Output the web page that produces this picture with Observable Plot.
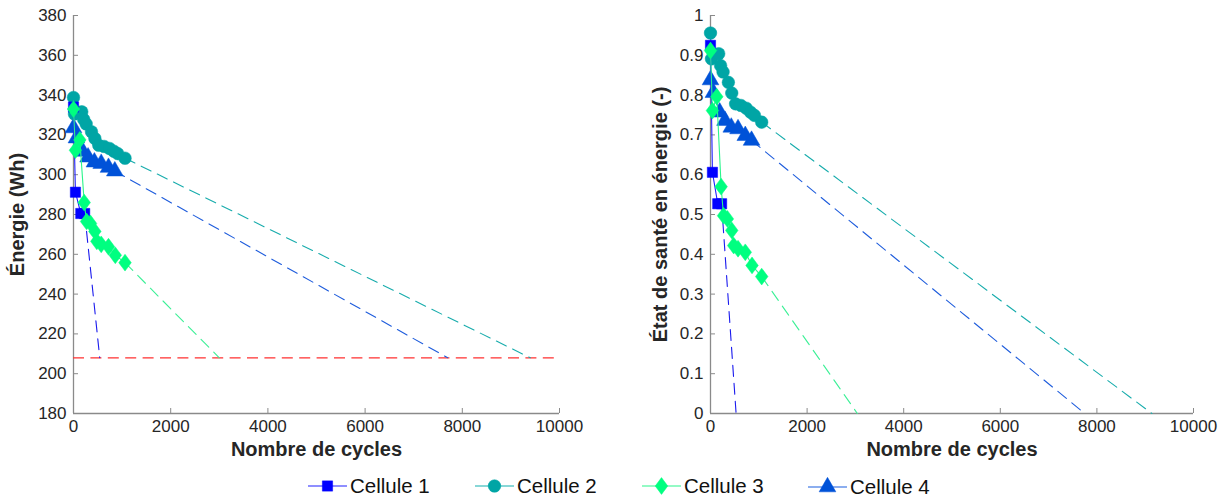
<!DOCTYPE html>
<html><head><meta charset="utf-8">
<script src="https://cdn.jsdelivr.net/npm/d3@7"></script>
<script src="https://cdn.jsdelivr.net/npm/@observablehq/plot@0.6"></script>
<style>
body{margin:0;background:#fff;font-family:"Liberation Sans",Arial,sans-serif;}
#wrap{position:relative;width:1227px;height:501px;overflow:hidden;}
#left{position:absolute;left:0;top:0;}
#right{position:absolute;left:600px;top:0;}
#legend{position:absolute;left:0;top:470px;width:1227px;height:31px;}
.item{position:absolute;top:0;height:31px;}
.item svg{position:absolute;top:0;left:0;}
.item span{position:absolute;top:4px;font-size:20.5px;color:#111;white-space:nowrap;}
</style></head><body>
<div id="wrap"><div id="left"></div><div id="right"></div><div id="legend"></div></div>
<script>
// ---- data ----
const cellNames = ["Cellule 1", "Cellule 2", "Cellule 3", "Cellule 4"];

const cycles1 = [0, 40, 150, 230];
const energy1 = [334, 291.2, 280.5, 280.5];
const soh1    = [0.925, 0.606, 0.527, 0.527];

const cycles2 = [0, 20, 170, 210, 260, 370, 440, 520, 630, 740, 830, 910, 1060];
const energy2 = [338.8, 330.5, 331.6, 327.8, 325.5, 321.6, 318.2, 314.8, 314.2, 313.2, 311.8, 310.6, 308.3];
const soh2    = [0.956, 0.891, 0.904, 0.874, 0.858, 0.832, 0.805, 0.778, 0.774, 0.767, 0.757, 0.749, 0.732];

const cycles3 = [0, 40, 130, 220, 270, 350, 440, 480, 570, 720, 860, 1060];
const energy3 = [333, 312.3, 317.5, 286, 276.5, 275.5, 271.5, 266.5, 265, 263.8, 259.5, 255.8];
const soh3    = [0.912, 0.761, 0.796, 0.57, 0.497, 0.489, 0.46, 0.422, 0.414, 0.405, 0.372, 0.344];

const cycles4 = [0, 60, 190, 300, 430, 570, 720, 850];
const energy4 = [323.5, 318.4, 311.7, 308.8, 306.3, 305.6, 303.6, 301.8];
const soh4    = [0.838, 0.806, 0.757, 0.736, 0.719, 0.715, 0.698, 0.686];

// extrapolated end-of-life cycles (where dashed lines meet the threshold)
const eolEnergy = [540, 9400, 3000, 7700];
const eolSoh    = [530, 9140, 3040, 7750];
const energyThreshold = 208;
const sohThreshold = 0;

const xTicks = [0, 2000, 4000, 6000, 8000, 10000];
const energyTicks = [180, 200, 220, 240, 260, 280, 300, 320, 340, 360, 380];
const sohTicks = [0, 0.1, 0.2, 0.3, 0.4, 0.5, 0.6, 0.7, 0.8, 0.9, 1];

// ---- styles ----
const markerColors = ["#0000FF", "#00A5A5", "#00FF80", "#0052D8"];
const lineColors   = ["#2020FF", "#13AFAF", "#2AF58C", "#1A5FE0"];
const dashColors   = ["#1A1AEE", "#17ACAC", "#3BF096", "#1E5CDC"];
const font = "Liberation Sans, Arial, sans-serif";
const axisGray = "#8a8a8a";

// wider diamond (like MATLAB's marker)
const wideDiamond = {
  draw(context, size) {
    const r = Math.sqrt(size / Math.PI);
    const hh = r * 1.5, hw = r * 1.12;
    context.moveTo(0, -hh);
    context.lineTo(hw, 0);
    context.lineTo(0, hh);
    context.lineTo(-hw, 0);
    context.closePath();
  }
};
const symbols = [d3.symbolSquare, d3.symbolCircle, wideDiamond, d3.symbolTriangle];
const radii   = [5.8, 6.3, 5.6, 6.2];
const drawOrder = [3, 1, 0, 2];

const cellCycles = [cycles1, cycles2, cycles3, cycles4];
const cellEnergy = [energy1, energy2, energy3, energy4];
const cellSoh    = [soh1, soh2, soh3, soh4];

function cellMarks(values, eol, thr) {
  const marks = [];
  drawOrder.forEach(i => {
    const n = cellCycles[i].length;
    const seg = [
      {cycle: cellCycles[i][n - 1], value: values[i][n - 1]},
      {cycle: eol[i], value: thr}
    ];
    marks.push(Plot.line(seg, {x: "cycle", y: "value", stroke: dashColors[i], strokeWidth: 1.1, strokeDasharray: "11,7"}));
  });
  drawOrder.forEach(i => {
    const rows = cellCycles[i].map((c, j) => ({cycle: c, value: values[i][j]}));
    marks.push(Plot.line(rows, {x: "cycle", y: "value", stroke: lineColors[i], strokeWidth: 1.1}));
    marks.push(Plot.dot(rows, {x: "cycle", y: "value", symbol: symbols[i], r: radii[i], fill: markerColors[i], stroke: markerColors[i], strokeWidth: 0.5}));
  });
  return marks;
}

function axes(yTicks, yFormat, yLabel, yLabelDx) {
  return [
    Plot.ruleX([0], {stroke: axisGray, strokeWidth: 1.3}),
    Plot.ruleY([yTicks[0]], {stroke: axisGray, strokeWidth: 1.3}),
    Plot.axisX({ticks: xTicks, tickFormat: d => String(d), tickSize: -5, tickPadding: 11, stroke: axisGray, fill: "#262626", fontSize: 17, label: null}),
    Plot.axisY({ticks: yTicks, tickFormat: yFormat, tickSize: -5, tickPadding: 12, stroke: axisGray, fill: "#262626", fontSize: 17, label: null}),
    Plot.text(["Nombre de cycles"], {frameAnchor: "bottom", dy: 36, lineAnchor: "middle", textAnchor: "middle", fontWeight: "bold", fontSize: 20, fill: "#262626"}),
    Plot.text([yLabel], {frameAnchor: "left", rotate: -90, dx: yLabelDx, lineAnchor: "middle", textAnchor: "middle", fontWeight: "bold", fontSize: 20, fill: "#262626"})
  ];
}

const leftPlot = Plot.plot({
  width: 600, height: 470,
  marginLeft: 73, marginRight: 41, marginTop: 15, marginBottom: 57,
  x: {domain: [0, 10000]},
  y: {domain: [180, 380]},
  style: {fontFamily: font, background: "white", overflow: "visible"},
  marks: [
    ...axes(energyTicks, d => String(d), "Énergie (Wh)", -56),
    Plot.ruleY([energyThreshold], {x1: 0, x2: 10000, stroke: "#FF3030", strokeWidth: 1.3, strokeDasharray: "11,6.4"}),
    ...cellMarks(cellEnergy, eolEnergy, energyThreshold)
  ]
});

const rightPlot = Plot.plot({
  width: 627, height: 470,
  marginLeft: 110, marginRight: 34, marginTop: 15, marginBottom: 57,
  x: {domain: [0, 10000]},
  y: {domain: [0, 1]},
  style: {fontFamily: font, background: "white", overflow: "visible"},
  marks: [
    ...axes(sohTicks, d => String(d), "État de santé en énergie (-)", -50),
    ...cellMarks(cellSoh, eolSoh, sohThreshold)
  ]
});

document.getElementById("left").appendChild(leftPlot);
document.getElementById("right").appendChild(rightPlot);

// ---- legend ----
const legendLeft = [308, 475, 642, 808];
const legendTop  = [0, 0, 0, 1];
const legend = d3.select("#legend");
cellNames.forEach((name, i) => {
  const item = legend.append("div").attr("class", "item").style("left", legendLeft[i] + "px").style("top", legendTop[i] + "px");
  const svg = item.append("svg").attr("width", 42).attr("height", 31);
  svg.append("line").attr("x1", 0).attr("x2", 39).attr("y1", 16).attr("y2", 16).attr("stroke", lineColors[i]).attr("stroke-width", 1.1);
  svg.append("path").attr("transform", "translate(19.5,16)")
    .attr("d", d3.symbol(symbols[i], Math.PI * radii[i] * radii[i])())
    .attr("fill", markerColors[i]).attr("stroke", markerColors[i]).attr("stroke-width", 0.5);
  item.append("span").style("left", "42px").text(name);
});
</script>
</body></html>
